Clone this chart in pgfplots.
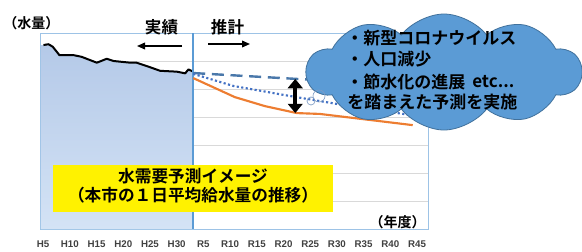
\documentclass[border=0pt]{standalone}
\usepackage{fontspec}
\setmainfont{Liberation Sans}
\newfontfamily\jp{Noto Sans CJK JP}[BoldFont={* Bold}]
\usepackage{pgfplots}
\pgfplotsset{compat=1.18}
\usetikzlibrary{shapes.symbols, arrows.meta}
\definecolor{axisblue}{HTML}{9DC3E6}
\definecolor{gridgray}{HTML}{D9D9D9}
\definecolor{tickgray}{HTML}{404040}
\definecolor{areatop}{HTML}{B4C9E8}
\definecolor{areabot}{HTML}{D4E3F5}
\definecolor{divblue}{HTML}{5B9BD5}
\definecolor{dashblue}{HTML}{4A78AA}
\definecolor{dotblue}{HTML}{4472C4}
\definecolor{orangeline}{HTML}{ED7D31}
\definecolor{cloudblue}{HTML}{5B9BD5}
\definecolor{cloudedge}{HTML}{41719C}
\definecolor{bubble}{HTML}{7F9CC4}
\begin{document}
\begin{tikzpicture}
\begin{axis}[
  at={(30.75pt,-171.75pt)}, anchor=south west,
  scale only axis, width=291pt, height=147pt,
  xmin=1992.6, xmax=2065.24, ymin=0, ymax=7,
  axis line style={draw=axisblue, line width=0.75pt},
  xtick={1993,1998,2003,2008,2013,2018,2023,2028,2033,2038,2043,2048,2053,2058,2063},
  xticklabels={H5,H10,H15,H20,H25,H30,R5,R10,R15,R20,R25,R30,R35,R40,R45},
  xticklabel style={font=\fontsize{7.3}{8}\selectfont\bfseries, text=tickgray, anchor=center, yshift=-11.25pt},
  ytick={1,2,3,4,5,6}, yticklabels={},
  ymajorgrids, major grid style={draw=gridgray, line width=0.75pt},
  major tick length=0pt,
]
% actual area
\addplot[draw=none, top color=areatop, bottom color=areabot] coordinates {
 (1992.6,0) (1992.6,6.57) (1993.06,6.57) (1994.0,6.60) (1994.8,6.51) (1996.05,6.21)
 (1998.7,6.21) (2000.2,6.15) (2003.05,5.94) (2004.9,6.08) (2006.2,6.00)
 (2009.3,5.94) (2010.5,5.94) (2012.7,5.80) (2014.9,5.65) (2018.0,5.62)
 (2019.6,5.56) (2020.2,5.70) (2021.1,5.62) (2021.1,0)} -- cycle;
% actual line
\addplot[black, line width=1.5pt, line join=round] coordinates {
 (1993.06,6.57) (1994.0,6.60) (1994.8,6.51) (1996.05,6.21)
 (1998.7,6.21) (2000.2,6.15) (2003.05,5.94) (2004.9,6.08) (2006.2,6.00)
 (2009.3,5.94) (2010.5,5.94) (2012.7,5.80) (2014.9,5.65) (2018.0,5.62)
 (2019.6,5.56) (2020.2,5.70) (2021.1,5.62)};
% divider
\addplot[divblue, line width=1.5pt] coordinates {(2021.1,0) (2021.1,7)};
% projections
\addplot[dashblue, line width=1.8pt, dash pattern=on 9pt off 5pt] coordinates {
 (2021.1,5.57) (2040.5,5.36) (2062.5,5.12)};
\addplot[dotblue, line width=1.6pt, dash pattern=on 1.6pt off 1.8pt] coordinates {
 (2021.1,5.54) (2028.6,5.11) (2039.2,4.75) (2048.2,4.46) (2062.5,4.05)};
\addplot[orangeline, line width=1.6pt, line join=round] coordinates {
 (2021.1,5.39) (2028.9,4.71) (2034.5,4.39) (2040.5,4.14) (2044.8,4.11) (2062.2,3.71)};
\draw[black, line width=3pt, {Triangle[width=11pt,length=7pt]}-{Triangle[width=11pt,length=7pt]}]
 (axis cs:2040.2,5.36) -- (axis cs:2040.2,4.14);
\end{axis}
\begin{scope}[x=0.75pt,y=-0.75pt]
\useasboundingbox (0,0) rectangle (582,248);
\fill[yellow] (53,165) rectangle (333,212);
\node[font=\jp\bfseries\fontsize{12.5}{14}\selectfont, inner sep=0] at (193,176.5) {水需要予測イメージ};
\node[font=\jp\bfseries\fontsize{12.5}{14}\selectfont, inner sep=0] at (193,195.5) {（本市の１日平均給水量の推移）};
\node[font=\jp\bfseries\fontsize{10.5}{12}\selectfont, inner sep=0] at (397.5,222) {（年度）};
\node[font=\jp\bfseries\fontsize{10.5}{12}\selectfont, inner sep=0] at (31.5,23) {（水量）};
\node[font=\jp\bfseries\fontsize{12.4}{14}\selectfont, inner sep=0] at (161.5,27) {実績};
\node[font=\jp\bfseries\fontsize{12.4}{14}\selectfont, inner sep=0] at (227.5,27) {推計};
\draw[black, line width=1.1pt, -{Triangle[width=5pt,length=6pt]}] (182,46) -- (137,46);
\draw[black, line width=1.1pt, -{Triangle[width=5pt,length=6pt]}] (208,44) -- (250,44);
% cloud
\node[cloud, cloud puffs=10, cloud puff arc=105, cloud ignores aspect, minimum width=206pt, minimum height=87pt,
  fill=cloudblue, draw=cloudedge, line width=0.6pt, inner sep=0] at (444,72) {};
\draw[bubble, line width=0.5pt] (311,101) circle[radius=4];
\draw[bubble, line width=0.5pt] (319,96) circle[radius=6];
\begin{scope}[every node/.style={font=\jp\bfseries\fontsize{12.75}{14}\selectfont, inner sep=0, anchor=west}]
\node at (346,38) {・新型コロナウイルス};
\node at (346,59) {・人口減少};
\node at (346,82) {・節水化の進展};
\node at (472,82) {etc...};
\node at (347,102) {を踏まえた予測を実施};
\end{scope}
\end{scope}
\end{tikzpicture}
\end{document}
